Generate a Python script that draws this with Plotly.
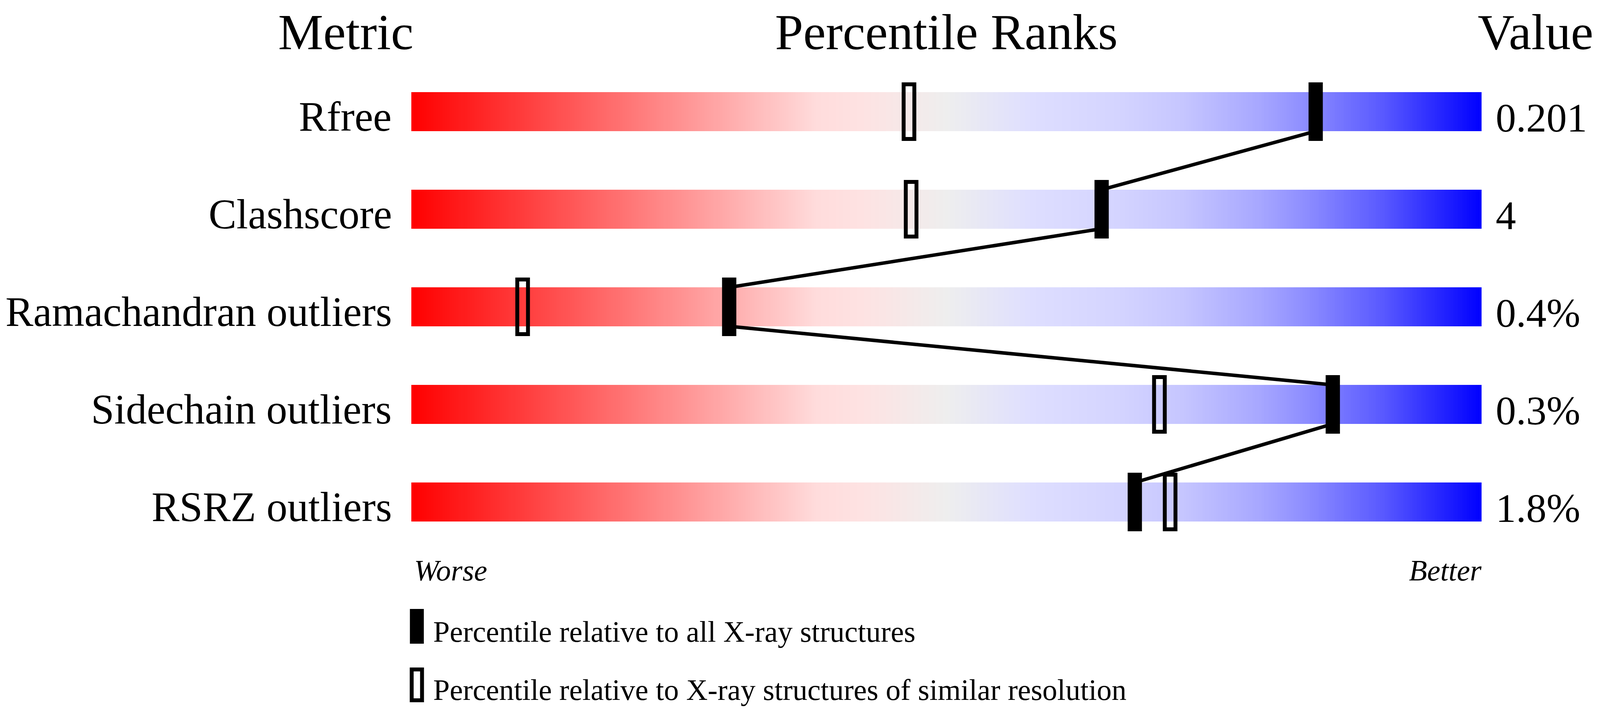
import numpy as np
import plotly.graph_objects as go

# -------------------------
# Data
# -------------------------
METRICS = ["Rfree", "Clashscore", "Ramachandran outliers", "Sidechain outliers", "RSRZ outliers"]
VALUES = ["0.201", "4", "0.4%", "0.3%", "1.8%"]

# percentile vs all X-ray structures (filled marker)
PCT_ALL = [84.5, 64.5, 29.7, 86.1, 67.6]
# percentile vs structures of similar resolution (hollow marker)
PCT_RES = [46.5, 46.7, 10.4, 69.9, 70.9]

LEGEND_TEXT = [
    "Percentile relative to all X-ray structures",
    "Percentile relative to X-ray structures of similar resolution",
]

# -------------------------
# Config
# -------------------------
# positions are measured on the 4485x1824 reference and mapped onto the
# page the figure actually fills (4096 wide viewport, 8px body margin)
REF_W, REF_H = 4485, 1824
VIEW_W, VIEW_H = 4096, 1824
OFF = 8
SX = VIEW_W / REF_W

FONT = "Liberation Serif, Times New Roman, serif"

SLIDER_SCALE = [
    [0.00, "#FF0000"],
    [0.38, "#FFDCDC"],
    [0.42, "#FEE2E2"],
    [0.50, "#EEEEEE"],
    [0.58, "#DEDEFF"],
    [0.66, "#D4D4FF"],
    [0.72, "#C6C6FF"],
    [0.79, "#A8A8FF"],
    [0.84, "#8A8AFF"],
    [0.91, "#5757FF"],
    [1.00, "#0000FF"],
]

BAR_X0, BAR_X1 = 1153, 4153   # slider extent (reference px)
ROW0, ROW_STEP = 286, 250     # first row centre, row spacing (px)
BAR_HALF = 0.2                # half slider height in row units

TITLE_SIZE, LABEL_SIZE, VALUE_SIZE, SMALL_SIZE = 130, 107, 104, 76
MID = 0.3375                  # baseline -> text box centre, in em


def px(x):
    return (x * SX - OFF) / (VIEW_W - 2 * OFF)


def py(y):
    return 1 - (y - OFF) / (VIEW_H - 2 * OFF)


def text(x, baseline, s, anchor, size):
    return dict(x=px(x), y=py(baseline - MID * size), xref="paper", yref="paper",
                text=s, xanchor=anchor, yanchor="middle", showarrow=False,
                font=dict(family=FONT, size=size, color="black"))


def main():
    n = len(METRICS)
    rows = list(range(n))
    fig = go.Figure()

    # -------------------------
    # Step 1) gradient sliders (empty rows between them)
    # -------------------------
    edges = np.linspace(0, 100, 601)
    centres = (edges[:-1] + edges[1:]) / 2
    y_edges, z = [], []
    for i in rows:
        y_edges += [i - BAR_HALF, i + BAR_HALF]
        z.append(list(centres))
        if i < n - 1:
            z.append([None] * len(centres))
    fig.add_trace(go.Heatmap(
        x=edges, y=y_edges, z=z, colorscale=SLIDER_SCALE, zmin=0, zmax=100,
        showscale=False, hoverinfo="skip",
    ))

    # -------------------------
    # Step 2) line joining the filled markers
    # -------------------------
    lx, ly = [], []
    for i, p in zip(rows, PCT_ALL):
        lx += [p, p]
        ly += [i - BAR_HALF, i + BAR_HALF]
    fig.add_trace(go.Scatter(x=lx, y=ly, mode="lines",
                             line=dict(color="black", width=9),
                             hoverinfo="skip", showlegend=False))

    # -------------------------
    # Step 3) markers
    # -------------------------
    fig.add_trace(go.Bar(
        x=PCT_ALL, y=[0.6] * n, base=[i - 0.3 for i in rows], width=4 / 3,
        marker=dict(color="black", line=dict(width=0)),
        showlegend=False, hoverinfo="skip",
    ))
    fig.add_trace(go.Bar(
        x=PCT_RES, y=[0.56] * n, base=[i - 0.28 for i in rows], width=1.0,
        marker=dict(color="rgba(0,0,0,0)", line=dict(color="black", width=10)),
        showlegend=False, hoverinfo="skip",
    ))

    # -------------------------
    # Step 4) texts
    # -------------------------
    ann = []
    for i, (m, v) in enumerate(zip(METRICS, VALUES)):
        base = ROW0 + ROW_STEP * i + 49
        ann.append(text(1100, base, m, "right", LABEL_SIZE))
        ann.append(text(4190, base + 2, v, "left", VALUE_SIZE))

    # column headers, kept just inside the top edge
    ann.append(text(970, 126, "Metric", "center", TITLE_SIZE))
    ann.append(text((BAR_X0 + BAR_X1) / 2, 126, "Percentile Ranks", "center", TITLE_SIZE))
    ann.append(text(4140, 126, "Value", "left", TITLE_SIZE))

    ann.append(text(1158, 1487, "<i>Worse</i>", "left", SMALL_SIZE))
    ann.append(text(4155, 1487, "<i>Better</i>", "right", SMALL_SIZE))

    # legend rows, the lower one kept just inside the bottom edge
    for s, base in zip(LEGEND_TEXT, [1644, 1793]):
        ann.append(text(1212, base, s, "left", SMALL_SIZE))

    shapes = [
        dict(type="rect", xref="paper", yref="paper",
             x0=px(1149), x1=px(1188), y0=py(1649), y1=py(1560),
             fillcolor="black", line=dict(width=0)),
        dict(type="rect", xref="paper", yref="paper",
             x0=px(1154), x1=px(1183), y0=py(1794), y1=py(1715),
             fillcolor="rgba(0,0,0,0)", line=dict(color="black", width=10)),
    ]

    # -------------------------
    # Step 5) layout
    # -------------------------
    y_top = (OFF - ROW0) / ROW_STEP
    y_bot = (VIEW_H - OFF - ROW0) / ROW_STEP
    fig.update_layout(
        margin=dict(l=0, r=0, t=0, b=0),
        paper_bgcolor="white", plot_bgcolor="white",
        font=dict(family=FONT, color="black"),
        barmode="overlay", showlegend=False,
        xaxis=dict(domain=[px(BAR_X0), px(BAR_X1)], range=[0, 100], visible=False),
        yaxis=dict(domain=[0, 1], range=[y_bot, y_top], visible=False),
        annotations=ann, shapes=shapes,
    )

    fig.write_html("out.html")


if __name__ == "__main__":
    main()
